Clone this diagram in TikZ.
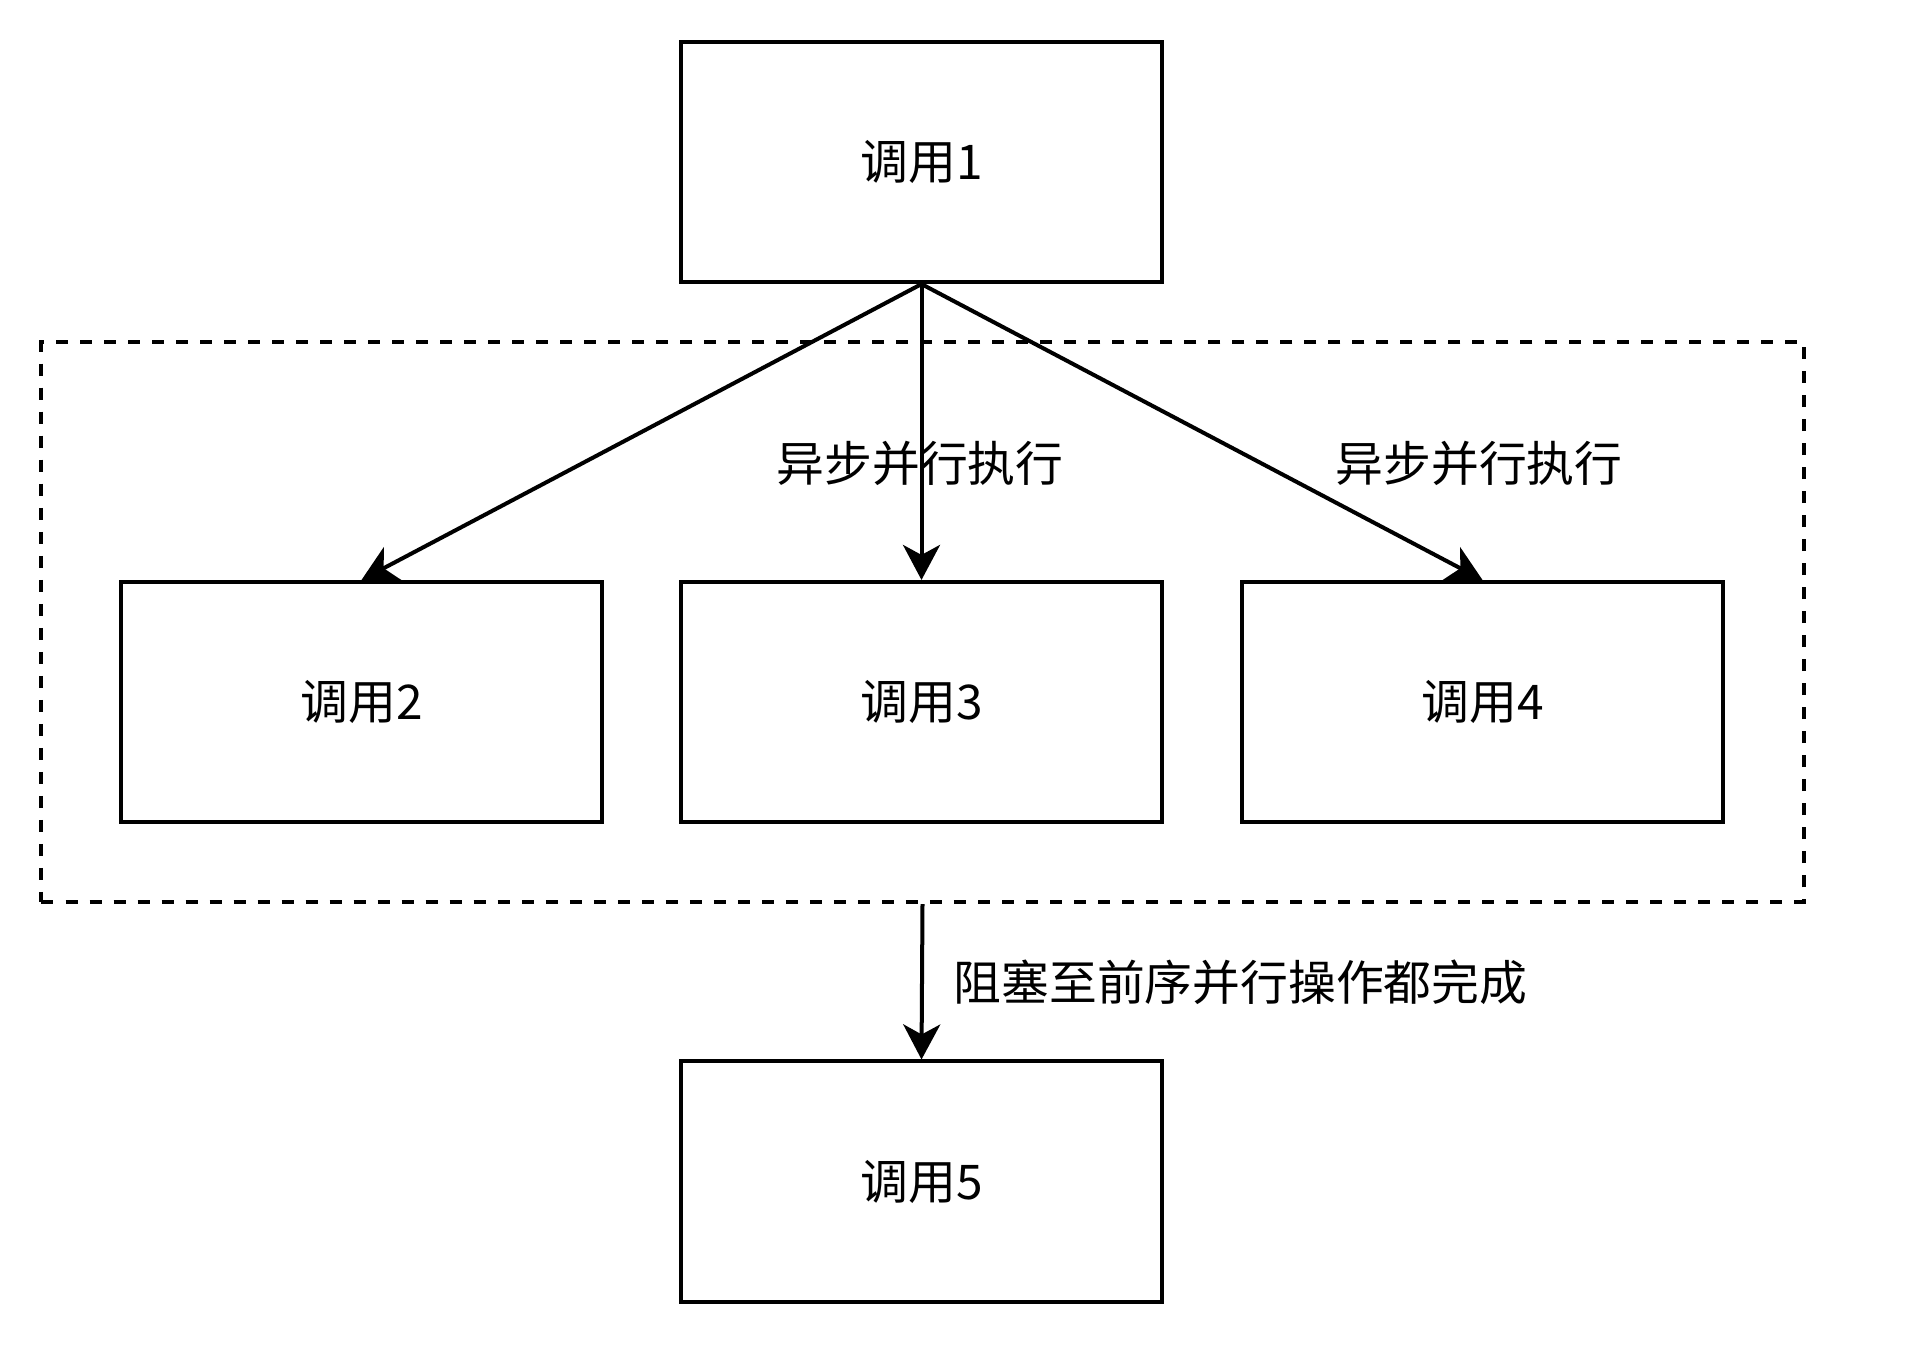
\documentclass[tikz,border=0pt]{standalone}
\usepackage{fontspec}
\setmainfont{Noto Sans CJK SC}
\usetikzlibrary{arrows.meta}
\begin{document}
\begin{tikzpicture}[x=0.01cm,y=-0.01cm,
  callbox/.style={draw,line width=0.04cm,minimum width=4.81cm,minimum height=2.40cm,inner sep=0pt,font=\fontsize{13.6pt}{16pt}\selectfont},
  conn/.style={line width=0.04cm,-{Stealth[length=0.35cm,width=0.37cm,inset=0.1cm]}},
  lbl/.style={font=\fontsize{13.6pt}{16pt}\selectfont,inner sep=0pt}]
\useasboundingbox (0,0) rectangle (1924,1344);
\node[draw,line width=0.04cm,dash pattern=on 0.12cm off 0.12cm,minimum width=17.61cm,minimum height=5.60cm,inner sep=0pt] (group) at (922.5,622) {};
\node[callbox] (c1) at (921.5,162) {调用1};
\node[callbox] (c2) at (361.5,702) {调用2};
\node[callbox] (c3) at (921.5,702) {调用3};
\node[callbox] (c4) at (1482.5,702) {调用4};
\node[callbox] (c5) at (921.5,1181.5) {调用5};
\draw[conn] (c1.south) -- (c2.north);
\draw[conn] (c1.south) -- (c3.north);
\draw[conn] (c1.south) -- (c4.north);
\draw[conn] (group.south) -- (c5.north);
\node[lbl] (l1) at (920,463) {异步并行执行};
\node[lbl] (l2) at (1479,463) {异步并行执行};
\node[lbl] (l3) at (1240.5,982) {阻塞至前序并行操作都完成};
\end{tikzpicture}
\end{document}
